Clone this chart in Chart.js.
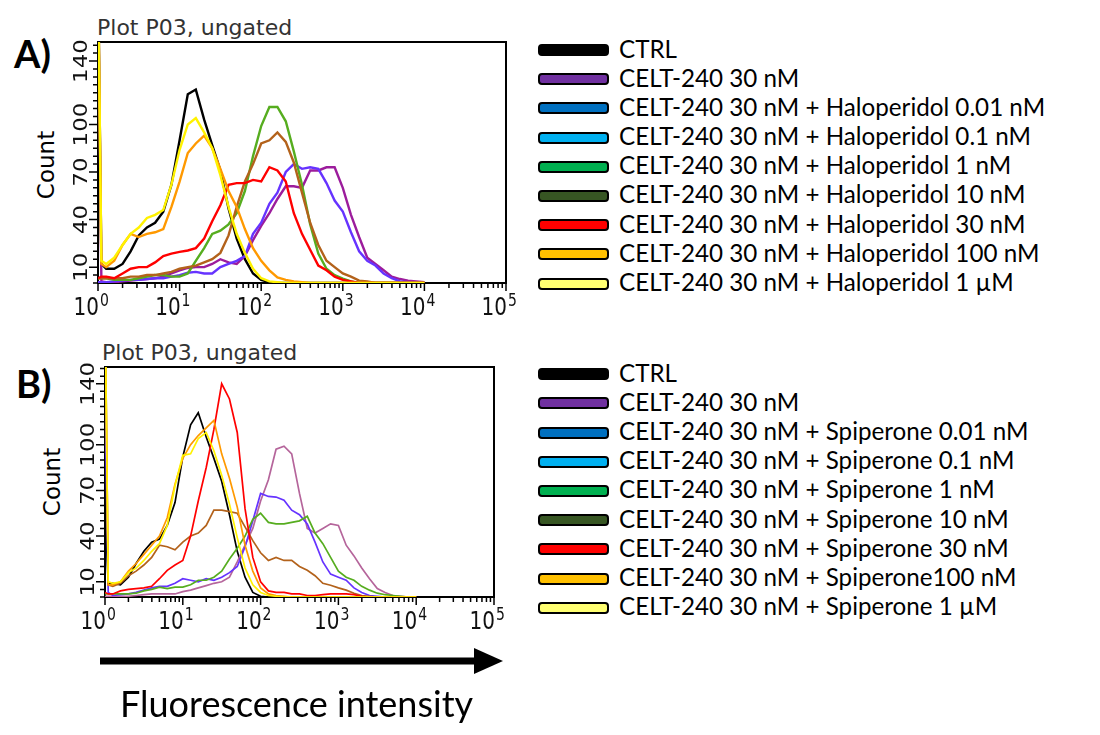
<!DOCTYPE html>
<html>
<head>
<meta charset="utf-8">
<script src="https://cdn.jsdelivr.net/npm/chart.js@4.4.0/dist/chart.umd.min.js"></script>
<style>
  body { margin: 0; width: 1100px; height: 735px; position: relative; background: #fff; overflow: hidden; }
  .abs { position: absolute; white-space: nowrap; }
  .panel { font: bold 38px Lato; line-height: 1; color: #000; }
  .title { font: 22px "DejaVu Sans"; line-height: 1; color: #333; }
  .count { font: 23px "DejaVu Sans"; line-height: 1; color: #000; transform: translate(-50%, -50%) rotate(-90deg); }
  .legend { position: absolute; left: 538px; margin: 0; padding: 0; list-style: none; }
  .legend li { height: 29.2px; display: flex; align-items: center; font: 24.2px Lato; line-height: 29.2px; color: #000; white-space: nowrap; }
  .legend .sw { width: 71px; height: 12px; box-sizing: border-box; border: 2px solid #000; border-radius: 4px; margin-right: 10px; position: relative; top: 2px; }
  canvas { position: absolute; left: 0; }
</style>
</head>
<body>
<div class="abs panel" style="left:14px;top:34px">A)</div>
<div class="abs title" style="left:97px;top:17px">Plot P03, ungated</div>
<div class="abs count" style="left:46px;top:165px">Count</div>
<canvas id="histA" width="530" height="325" style="top:0"></canvas>
<ul class="legend" id="legendA" style="top:33.5px"></ul>

<div class="abs panel" style="left:16px;top:364px">B)</div>
<div class="abs title" style="left:102px;top:342px">Plot P03, ungated</div>
<div class="abs count" style="left:52px;top:482px">Count</div>
<canvas id="histB" width="530" height="325" style="top:325px"></canvas>
<ul class="legend" id="legendB" style="top:357.7px"></ul>

<svg class="abs" style="left:0;top:640px" width="520" height="45">
  <line x1="100" y1="21" x2="478" y2="21" stroke="#000" stroke-width="7"/>
  <polygon points="474,8 503,21 474,34" fill="#000"/>
</svg>
<div class="abs" style="left:120px;top:685px;font:36px Lato;line-height:1">Fluorescence intensity</div>

<script>
// fluorescence intensity bins (log-spaced)
const intensity = [1, 1.1, 1.26, 1.58, 2, 2.51, 3.16, 3.98, 5.01, 6.31, 7.94,
  10, 12.6, 15.8, 20, 25.1, 31.6, 39.8, 50.1, 63.1, 79.4,
  100, 126, 158, 200, 251, 316, 398, 501, 631, 794,
  1000, 1259, 1585, 1995, 2512, 3162, 3981, 5012, 6310, 7943, 10000];

const yTicks = [10, 40, 70, 100, 140];
const decades = [0, 1, 2, 3, 4, 5];

const legendLabelsA = ['CTRL', 'CELT-240 30 nM',
  'CELT-240 30 nM + Haloperidol 0.01 nM', 'CELT-240 30 nM + Haloperidol 0.1 nM',
  'CELT-240 30 nM + Haloperidol 1 nM', 'CELT-240 30 nM + Haloperidol 10 nM',
  'CELT-240 30 nM + Haloperidol 30 nM', 'CELT-240 30 nM + Haloperidol 100 nM',
  'CELT-240 30 nM + Haloperidol 1 µM'];
const legendLabelsB = ['CTRL', 'CELT-240 30 nM',
  'CELT-240 30 nM + Spiperone 0.01 nM', 'CELT-240 30 nM + Spiperone 0.1 nM',
  'CELT-240 30 nM + Spiperone 1 nM', 'CELT-240 30 nM + Spiperone 10 nM',
  'CELT-240 30 nM + Spiperone 30 nM', 'CELT-240 30 nM + Spiperone100 nM',
  'CELT-240 30 nM + Spiperone 1 µM'];
const legendColors = ['#000000', '#7030a0', '#0070c0', '#00b0f0', '#00b050', '#375623', '#ff0000', '#ffc000', '#ffff71'];

// panel A counts
const ctrlA    = [200, 12, 9, 9, 12, 20, 30, 35, 38, 45, 62, 90, 119, 122, 103, 87, 71, 47, 28, 15, 6, 2, 0.5, 0, 0, 0, 0, 0, 0, 0, 0, 0, 0, 0, 0, 0, 0, 0, 0, 0, 0, 0];
const celtA    = [200, 1, 0.5, 0.5, 1, 1.5, 2, 2.5, 3, 4, 6, 8, 9.5, 10, 10, 12, 15, 13, 12, 17, 27, 36, 44, 53, 61, 61, 60, 71, 71, 73, 73, 60, 43, 29, 16, 12, 8, 4, 2.5, 1.5, 1, 0.5];
const halo001  = [0.5, 0.5, 0.5, 1, 1.5, 2, 2, 2.5, 3, 3, 4, 5, 6.5, 7, 6, 6, 10, 12, 14, 17, 31, 38, 50, 57, 70, 75, 72, 73, 72, 63, 52, 45, 32, 20, 14, 11, 6, 3, 1, 0.5, 0, 0];
const halo1    = [3, 3, 3, 2, 2, 2, 3, 4, 5, 5, 4, 4, 6, 14, 22, 31, 33, 37, 44, 58, 80, 99, 111, 111, 102, 83, 62, 37, 18.5, 9, 5, 2.7, 1, 0, 0, 0, 0, 0, 0, 0, 0, 0];
const halo10   = [3, 3, 3, 3, 3, 4, 4, 5, 5, 6, 7, 9, 10, 11, 13, 15, 19, 30, 48, 64, 75, 88, 90, 95, 89, 76, 57, 38, 24, 14, 10, 6, 4, 1.5, 1, 0, 0, 0, 0, 0, 0, 0];
const halo30   = [3, 4, 4, 3, 6, 9, 10, 10, 13, 17, 18.5, 19.6, 20.5, 22, 28, 39, 49, 62, 63, 63, 65, 64, 73, 71, 64, 44, 31, 21, 11, 8, 4, 2, 1, 0, 0, 0, 0, 0, 0, 0, 0, 0];
const halo100  = [200, 12, 10, 14, 24, 31, 29, 31, 32, 34, 48, 64, 82, 88, 93, 85, 72, 58, 48, 34, 22, 14, 8, 3.5, 2, 1, 0.5, 0, 0, 0, 0, 0, 0, 0, 0, 0, 0, 0, 0, 0, 0, 0];
const halo1uM  = [200, 14, 12, 16, 24, 31, 35, 41, 43, 46, 62, 84, 100, 104, 95, 85, 68, 48, 31, 19, 9, 3, 1, 0.5, 0, 0, 0, 0, 0, 0, 0, 0, 0, 0, 0, 0, 0, 0, 0, 0, 0, 0];

// panel B counts
const ctrlB    = [57, 9, 9, 8, 13, 22, 30, 36, 38, 47, 62, 92, 113, 121, 105, 91, 76, 54, 30, 13, 3, 0.5, 0, 0, 0, 0, 0, 0, 0, 0, 0, 0, 0, 0, 0, 0, 0, 0, 0, 0, 0, 0];
const celtB    = [0.5, 0.5, 0.5, 0.5, 0.5, 1, 1.5, 2, 2, 2, 2, 3.5, 4.5, 6, 7.5, 9, 10, 13, 23, 34, 45, 63, 77, 97, 99, 94, 68, 45, 42, 45, 48, 47, 34, 27, 19, 12, 5.5, 3, 1, 0.5, 0, 0];
const spip001  = [130, 3, 1, 1.5, 2, 3, 4.5, 6, 7, 7, 9, 12, 11, 10, 12, 11, 13, 16, 20, 33, 50, 68, 66, 65.6, 63.5, 57, 54, 48, 36, 23, 15, 13, 11, 6, 3, 1, 0.5, 0, 0, 0, 0, 0];
const spip1    = [2, 2, 2, 2, 2, 2.5, 4, 5, 6.5, 5.5, 6.5, 6.5, 8, 11, 11, 13, 17, 25, 32, 40, 51, 55, 49, 48, 48, 49, 50, 53, 42, 35, 26, 17, 13, 11, 7, 4.5, 2.5, 1.5, 1, 0.5, 0, 0];
const spip10   = [200, 8, 7, 9, 14, 17, 21, 26, 34, 33, 31, 36, 40, 42, 47, 57, 57, 56, 55, 46, 37, 29, 24, 26, 24, 24, 20, 17.5, 14, 9, 7.7, 6, 4.5, 2.5, 1, 0.5, 0, 0, 0, 0, 0, 0];
const spip30   = [3, 2, 2, 4, 5, 5.5, 6, 7, 12, 17.5, 21, 24, 40, 63, 85, 110, 140, 130, 108, 58, 26, 10, 4, 3, 3, 2, 2, 1, 1, 1.5, 2, 2, 2, 1.5, 0.5, 0, 0, 0, 0, 0, 0, 0];
const spip100  = [200, 8, 8, 10, 17, 22, 28, 34, 40, 52, 74, 91, 100, 106, 111, 116, 94, 78, 59, 34, 17, 6, 2, 1, 0.5, 0, 0, 0, 0, 0, 0, 0, 0, 0, 0, 0, 0, 0, 0, 0, 0, 0];
const spip1uM  = [200, 10, 9, 10, 16, 19, 24, 30, 35, 47, 73, 93, 94, 104, 108, 96, 80, 61, 39, 19, 8, 3, 1, 0.5, 0, 0, 0, 0, 0, 0, 0, 0, 0, 0, 0, 0, 0, 0, 0, 0, 0, 0];

// frame, tick marks and tick labels, placed with the chart's own scales
const axisDecor = {
  id: 'axisDecor',
  beforeDatasetsDraw(chart) {
    const { ctx, chartArea: a } = chart;
    ctx.save();
    ctx.strokeStyle = '#000';
    ctx.lineWidth = 2;
    ctx.strokeRect(a.left, a.top, a.right - a.left, a.bottom - a.top);
    ctx.restore();
  },
  afterDraw(chart) {
    const { ctx, chartArea: a, scales: { x, y } } = chart;
    ctx.save();
    ctx.strokeStyle = '#000';
    ctx.lineWidth = 1.5;
    ctx.beginPath();
    for (let d = 0; d < 5; d++) {
      for (let m = 1; m < 10; m++) {
        const px = x.getPixelForValue(m * Math.pow(10, d));
        ctx.moveTo(px, a.bottom + 1);
        ctx.lineTo(px, a.bottom + (m === 1 ? 8 : 5));
      }
    }
    const pEnd = x.getPixelForValue(1e5);
    ctx.moveTo(pEnd, a.bottom + 1);
    ctx.lineTo(pEnd, a.bottom + 8);
    for (let v = 0; v <= y.max; v += 5) {
      const py = y.getPixelForValue(v);
      ctx.moveTo(a.left - 1, py);
      ctx.lineTo(a.left - (yTicks.includes(v) ? 9 : 5), py);
    }
    ctx.stroke();

    ctx.fillStyle = '#111';
    decades.forEach(d => {
      const px = x.getPixelForValue(Math.pow(10, d));
      ctx.save();
      ctx.translate(px, a.bottom + 32);
      ctx.scale(1, 1.2);
      ctx.font = '20px "DejaVu Sans"';
      ctx.textAlign = 'right';
      ctx.fillText('10', 1, 0);
      ctx.font = '14px "DejaVu Sans"';
      ctx.textAlign = 'left';
      ctx.fillText(String(d), 2, -7.5);
      ctx.restore();
    });
    yTicks.forEach(v => {
      const py = y.getPixelForValue(v);
      ctx.save();
      ctx.translate(a.left - 11, py);
      ctx.rotate(-Math.PI / 2);
      ctx.scale(1.15, 1);
      ctx.font = '20px "DejaVu Sans"';
      ctx.textAlign = 'center';
      ctx.fillText(String(v), 0, 0);
      ctx.restore();
    });
    ctx.restore();
  }
};

function makeHistogram(id, series, yMax, yAxisWidth, xAxisHeight, padding, lineWidth) {
  return new Chart(document.getElementById(id), {
    type: 'line',
    data: {
      datasets: series.map((s, i) => ({
        label: s.label,
        data: intensity.map((v, j) => ({ x: v, y: s.values[j] })),
        borderColor: s.color,
        borderWidth: lineWidth,
        pointRadius: 0,
        tension: 0,
        fill: false,
        order: series.length - i
      }))
    },
    options: {
      responsive: false,
      animation: false,
      devicePixelRatio: 1,
      layout: { padding },
      plugins: { legend: { display: false }, tooltip: { enabled: false } },
      scales: {
        x: {
          type: 'logarithmic', min: 1, max: 100000,
          grid: { display: false }, border: { display: false }, ticks: { display: false },
          afterFit: s => { s.height = xAxisHeight; }
        },
        y: {
          type: 'linear', min: 0, max: yMax,
          grid: { display: false }, border: { display: false }, ticks: { display: false },
          afterFit: s => { s.width = yAxisWidth; }
        }
      }
    },
    plugins: [axisDecor]
  });
}

function buildLegend(id, labels) {
  const ul = document.getElementById(id);
  labels.forEach((text, i) => {
    const li = document.createElement('li');
    const sw = document.createElement('span');
    sw.className = 'sw';
    sw.style.background = legendColors[i];
    li.appendChild(sw);
    li.appendChild(document.createTextNode(text));
    ul.appendChild(li);
  });
}

const seriesA = [
  { label: legendLabelsA[0], values: ctrlA, color: '#000000' },
  { label: legendLabelsA[1], values: celtA, color: '#9c1c9c' },
  { label: legendLabelsA[2], values: halo001, color: '#6633ff' },
  { label: legendLabelsA[4], values: halo1, color: '#56ad1f' },
  { label: legendLabelsA[5], values: halo10, color: '#b3621b' },
  { label: legendLabelsA[6], values: halo30, color: '#ff0000' },
  { label: legendLabelsA[7], values: halo100, color: '#ff9900' },
  { label: legendLabelsA[8], values: halo1uM, color: '#fff200' }
];
const seriesB = [
  { label: legendLabelsB[0], values: ctrlB, color: '#000000' },
  { label: legendLabelsB[1], values: celtB, color: '#b5659b' },
  { label: legendLabelsB[2], values: spip001, color: '#6633ff' },
  { label: legendLabelsB[4], values: spip1, color: '#56ad1f' },
  { label: legendLabelsB[5], values: spip10, color: '#b3621b' },
  { label: legendLabelsB[6], values: spip30, color: '#ff0000' },
  { label: legendLabelsB[7], values: spip100, color: '#ff9900' },
  { label: legendLabelsB[8], values: spip1uM, color: '#fff200' }
];

makeHistogram('histA', seriesA, 152, 98, 42, { left: 0, top: 42, right: 24, bottom: 0 }, 2.4);
makeHistogram('histB', seriesB, 151, 105, 53, { left: 0, top: 42, right: 36, bottom: 0 }, 1.7);
buildLegend('legendA', legendLabelsA);
buildLegend('legendB', legendLabelsB);
</script>
</body>
</html>
